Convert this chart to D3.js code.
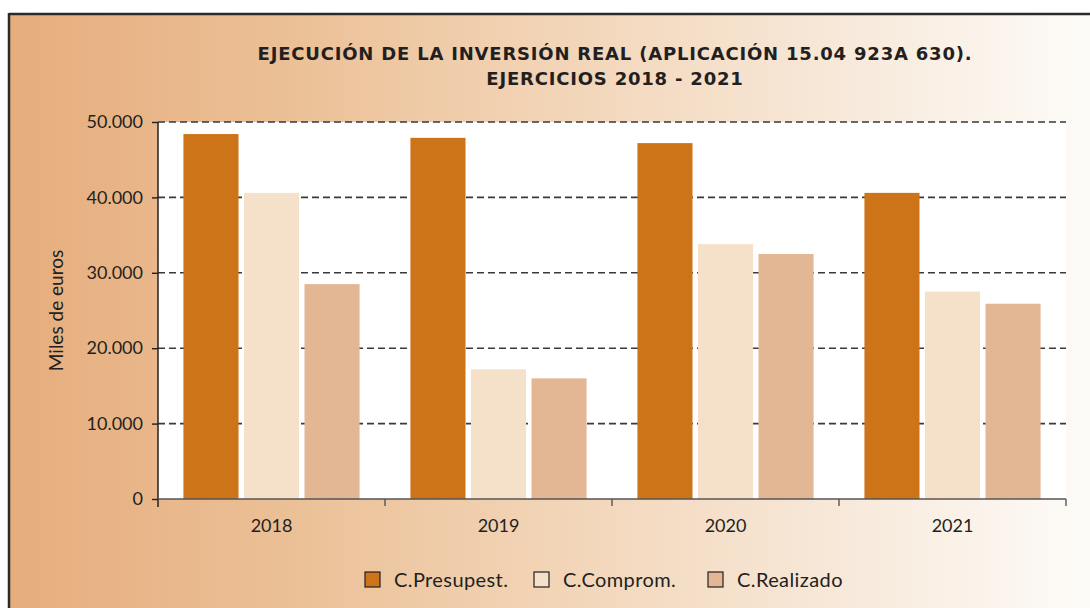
<!DOCTYPE html>
<html>
<head>
<meta charset="utf-8">
<script src="https://cdn.jsdelivr.net/npm/d3@7"></script>
<style>
  html, body { margin: 0; padding: 0; background: #ffffff; }
  svg { display: block; font-family: Lato, "Open Sans", sans-serif; }
  text { fill: #231f20; }
</style>
</head>
<body>
<svg id="chart" width="1090" height="608"></svg>
<script>
// Ejecución de la inversión real, miles de euros
const years = ["2018", "2019", "2020", "2021"];
const seriesNames = ["C.Presupest.", "C.Comprom.", "C.Realizado"];
const presupestado = [48400, 47900, 47200, 40600];
const comprometido = [40600, 17200, 33800, 27500];
const realizado = [28500, 16000, 32500, 25900];
const yTicks = [0, 10000, 20000, 30000, 40000, 50000];
const titleLines = [
  "EJECUCIÓN DE LA INVERSIÓN REAL (APLICACIÓN 15.04 923A 630).",
  "EJERCICIOS 2018 - 2021"
];
const yLabel = "Miles de euros";
const colors = ["#cd7318", "#f5e1c9", "#e4b794"];

const seriesValues = [presupestado, comprometido, realizado];
const rows = years.map((y, i) => ({
  year: y,
  values: seriesNames.map((s, j) => ({ key: s, value: seriesValues[j][i], color: colors[j] }))
}));

const svg = d3.select("#chart");
const W = 1090, H = 608;
const plot = { left: 158, right: 1066, top: 122, bottom: 499 };

// Framed panel with horizontal gradient
const defs = svg.append("defs");
const grad = defs.append("linearGradient").attr("id", "bg").attr("x1", "0").attr("x2", "1").attr("y1", "0").attr("y2", "0");
grad.append("stop").attr("offset", "0").attr("stop-color", "#e6ad7d");
grad.append("stop").attr("offset", "0.25").attr("stop-color", "#ebbf95");
grad.append("stop").attr("offset", "0.5").attr("stop-color", "#f2d4b6");
grad.append("stop").attr("offset", "0.75").attr("stop-color", "#f7e7d7");
grad.append("stop").attr("offset", "1").attr("stop-color", "#fdfbf8");

svg.append("rect").attr("x", 8).attr("y", 13).attr("width", W - 8).attr("height", H - 13).attr("fill", "url(#bg)");
svg.append("line").attr("x1", 9).attr("x2", W).attr("y1", 14).attr("y2", 14)
  .attr("stroke", "#2b2b2b").attr("stroke-width", 2.5);
svg.append("line").attr("x1", 9).attr("x2", 9).attr("y1", 13).attr("y2", H)
  .attr("stroke", "#2b2b2b").attr("stroke-width", 2.5);

// Scales
const x0 = d3.scaleBand().domain(years).range([plot.left, plot.right]).padding(0);
const x1 = d3.scaleBand().domain(seriesNames).range([0, x0.bandwidth()]).paddingInner(0.09).paddingOuter(0.42);
const y = d3.scaleLinear().domain([0, 50000]).range([plot.bottom, plot.top]);

const locale = d3.formatLocale({ decimal: ",", thousands: ".", grouping: [3], currency: ["", " €"] });
const fmt = locale.format(",");

// Plot area
svg.append("rect").attr("x", plot.left).attr("y", plot.top)
  .attr("width", plot.right - plot.left).attr("height", plot.bottom - plot.top).attr("fill", "#ffffff");

// Dashed gridlines
svg.append("g").selectAll("line").data(yTicks.filter(d => d > 0)).join("line")
  .attr("x1", plot.left).attr("x2", plot.right)
  .attr("y1", d => y(d)).attr("y2", d => y(d))
  .attr("stroke", "#3a3a3a").attr("stroke-width", 1.6).attr("stroke-dasharray", "7,4");

// Bars
const groups = svg.append("g").selectAll("g").data(rows).join("g")
  .attr("transform", d => `translate(${x0(d.year)},0)`);
groups.selectAll("rect").data(d => d.values).join("rect")
  .attr("x", d => x1(d.key))
  .attr("width", x1.bandwidth())
  .attr("y", d => y(d.value))
  .attr("height", d => y(0) - y(d.value))
  .attr("fill", d => d.color);

// Y axis
const yAxis = svg.append("g").attr("transform", `translate(${plot.left},0)`)
  .call(d3.axisLeft(y).tickValues(yTicks).tickFormat(fmt).tickSize(6).tickPadding(9));
yAxis.select(".domain").attr("stroke", "#231f20").attr("stroke-width", 1.5)
  .attr("d", `M0,${plot.top}V${plot.bottom + 8}`);
yAxis.selectAll(".tick line").attr("stroke", "#231f20").attr("stroke-width", 1.4);
yAxis.selectAll(".tick text").attr("font-size", 18).attr("fill", "#231f20")
  .attr("font-family", "Lato, sans-serif");

// X axis
const xAxis = svg.append("g").attr("transform", `translate(0,${plot.bottom})`)
  .call(d3.axisBottom(x0).tickSize(0).tickPadding(0));
xAxis.select(".domain").attr("stroke", "#555555").attr("stroke-width", 1.4)
  .attr("d", `M${plot.left},0H${plot.right}`);
xAxis.selectAll(".tick text").attr("font-size", 18).attr("fill", "#231f20")
  .attr("font-family", "Lato, sans-serif").attr("dy", "1.85em");
// Category separators
const seps = years.slice(1).map(d => x0(d)).concat([plot.right]);
xAxis.append("g").selectAll("line").data(seps).join("line")
  .attr("x1", d => d).attr("x2", d => d).attr("y1", 0).attr("y2", 7)
  .attr("stroke", "#555555").attr("stroke-width", 1.4);

// Y label
svg.append("text")
  .attr("transform", `translate(63,${(plot.top + plot.bottom) / 2}) rotate(-90)`)
  .attr("text-anchor", "middle").attr("font-size", 19).text(yLabel);

// Title
svg.append("g").selectAll("text").data(titleLines).join("text")
  .attr("x", 615).attr("y", (d, i) => 60 + i * 25)
  .attr("text-anchor", "middle").attr("font-size", 18).attr("font-weight", 700)
  .attr("letter-spacing", 0.8)
  .style("font-family", "'DejaVu Sans', sans-serif")
  .text(d => d);

// Legend
const legendX = [365, 534, 708];
const legend = svg.append("g").selectAll("g").data(seriesNames).join("g")
  .attr("transform", (d, i) => `translate(${legendX[i]},572)`);
legend.append("rect").attr("width", 15).attr("height", 15)
  .attr("fill", (d, i) => colors[i]).attr("stroke", "#231f20").attr("stroke-width", 1.2);
legend.append("text").attr("x", 29).attr("y", 15).attr("font-size", 20)
  .attr("letter-spacing", 0.4).text(d => d);
</script>
</body>
</html>
